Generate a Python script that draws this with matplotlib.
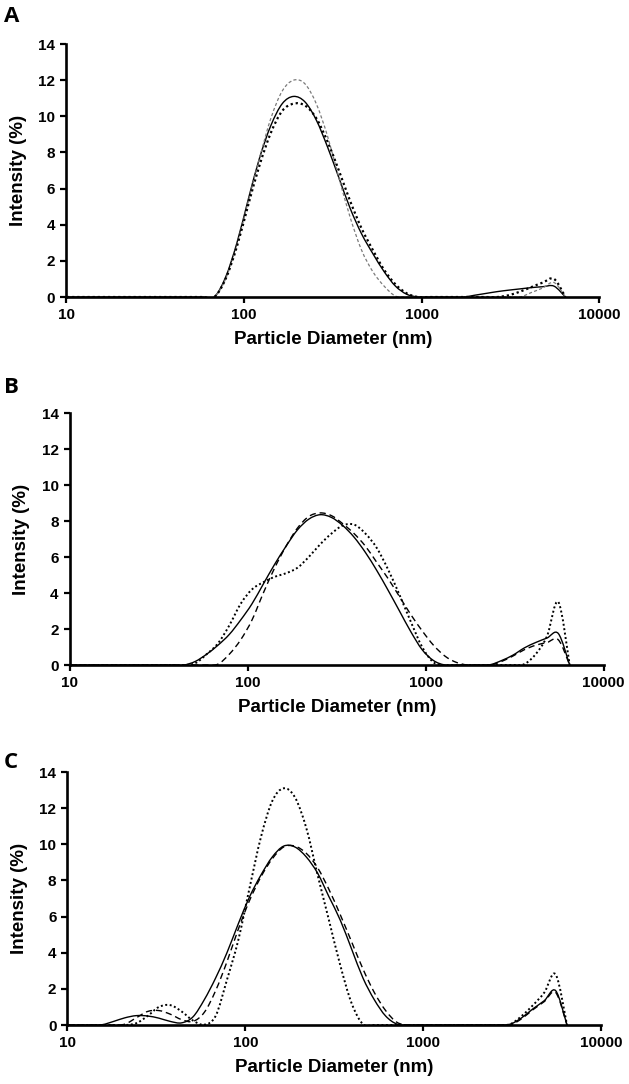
import matplotlib
matplotlib.use('Agg')
import matplotlib.pyplot as plt
import numpy as np
from matplotlib.path import Path
from matplotlib.patches import PathPatch

plt.rcParams['font.family'] = ['Liberation Sans', 'DejaVu Sans']

# size classes (nm)
sizes = [10.10, 11.70, 13.54, 15.69, 18.17, 21.04, 24.36, 28.21, 32.67, 37.84,
         43.82, 50.75, 58.77, 68.06, 78.82, 91.28, 105.7, 122.4, 141.8, 164.2,
         190.1, 220.2, 255.0, 295.3, 342.0, 396.1, 458.7, 531.2, 615.1, 712.4,
         825.0, 955.4, 1106, 1281, 1484, 1718, 1990, 2305, 2669, 3091,
         3580, 4145, 4801, 5560, 6439]

# ---- panel A
a_solid = [0, 0, 0, 0, 0, 0, 0, 0, 0, 0,
           0, 0, 0, 0, 1.1, 3.0, 5.4, 7.7, 9.5, 10.7,
           11.1, 10.8, 9.8, 8.3, 6.6, 4.9, 3.5, 2.4, 1.4, 0.6,
           0.15, 0, 0, 0, 0, 0, 0.1, 0.2, 0.3, 0.38,
           0.45, 0.52, 0.57, 0.6, 0]
a_dotted = [0, 0, 0, 0, 0, 0, 0, 0, 0, 0,
            0, 0, 0, 0, 1.0, 2.8, 5.1, 7.3, 9.1, 10.3,
            10.7, 10.6, 9.9, 8.6, 7.0, 5.3, 3.8, 2.6, 1.5, 0.7,
            0.2, 0, 0, 0, 0, 0, 0, 0, 0, 0.1,
            0.3, 0.55, 0.8, 1.0, 0]
a_dashed = [0, 0, 0, 0, 0, 0, 0, 0, 0, 0,
            0, 0, 0, 0, 1.0, 2.9, 5.3, 7.7, 9.9, 11.4,
            12.0, 11.8, 10.7, 8.9, 6.6, 4.4, 2.6, 1.4, 0.6, 0.05,
            0, 0, 0, 0, 0, 0, 0, 0, 0, 0,
            0, 0.25, 0.5, 0.8, 0]

# ---- panel B
b_solid = [0, 0, 0, 0, 0, 0, 0, 0, 0, 0,
           0, 0.2, 0.6, 1.1, 1.7, 2.5, 3.4, 4.5, 5.6, 6.6,
           7.5, 8.1, 8.35, 8.2, 7.75, 7.1, 6.25, 5.25, 4.15, 3.0,
           1.85, 0.85, 0.25, 0, 0, 0, 0, 0.02, 0.25, 0.55,
           0.95, 1.25, 1.5, 1.75, 0]
b_dotted = [0, 0, 0, 0, 0, 0, 0, 0, 0, 0,
            0, 0.1, 0.6, 1.2, 2.2, 3.4, 4.2, 4.6, 4.9, 5.1,
            5.4, 6.0, 6.7, 7.3, 7.75, 7.8, 7.3, 6.5, 5.3, 3.9,
            2.4, 1.0, 0.15, 0, 0, 0, 0, 0, 0, 0,
            0.05, 0.6, 1.6, 3.5, 0]
b_dashed = [0, 0, 0, 0, 0, 0, 0, 0, 0, 0,
            0, 0, 0, 0.05, 0.6, 1.4, 2.5, 4.0, 5.4, 6.6,
            7.6, 8.25, 8.45, 8.3, 7.85, 7.3, 6.6, 5.7, 4.8, 3.8,
            2.8, 1.9, 1.1, 0.5, 0.15, 0, 0, 0, 0.2, 0.5,
            0.85, 1.1, 1.25, 1.4, 0]

# ---- panel C
c_solid = [0, 0, 0, 0.02, 0.2, 0.4, 0.52, 0.5, 0.38, 0.2,
           0.12, 0.45, 1.4, 2.6, 4.0, 5.6, 7.1, 8.3, 9.3, 9.9,
           9.85, 9.3, 8.4, 7.1, 5.8, 4.2, 2.6, 1.4, 0.5, 0.05,
           0, 0, 0, 0, 0, 0, 0, 0, 0, 0.05,
           0.4, 0.9, 1.35, 1.9, 0]
c_dotted = [0, 0, 0, 0, 0, 0, 0.1, 0.5, 1.0, 1.1,
            0.75, 0.25, 0.02, 0.5, 2.5, 4.7, 7.6, 10.4, 12.4, 13.1,
            12.6, 10.9, 8.3, 5.8, 3.3, 1.2, 0.05, 0, 0, 0,
            0, 0, 0, 0, 0, 0, 0, 0, 0, 0.05,
            0.5, 1.1, 1.8, 2.8, 0]
c_dashed = [0, 0, 0, 0, 0, 0.05, 0.4, 0.75, 0.8, 0.6,
            0.3, 0.2, 0.7, 1.9, 3.5, 5.3, 6.9, 8.2, 9.2, 9.85,
            9.9, 9.5, 8.7, 7.5, 6.1, 4.6, 3.1, 1.8, 0.8, 0.15,
            0, 0, 0, 0, 0, 0, 0, 0, 0, 0,
            0.35, 0.85, 1.3, 1.8, 0]

y_ticks = [0, 2, 4, 6, 8, 10, 12, 14]
x_ticks = [10, 100, 1000, 10000]
x_ticklabels = ['10', '100', '1000', '10000']


#------------- smoothed line through the points (like a spreadsheet "smooth line") ---------
def smoothLine(ax, xs, ys, **kw):
    lx = np.log10(xs)
    y = np.asarray(ys, dtype=float)
    n = len(lx)
    verts = [(lx[0], y[0])]
    codes = [Path.MOVETO]
    for i in range(n - 1):
        p0 = max(i - 1, 0)
        p3 = min(i + 2, n - 1)
        c1 = (lx[i] + (lx[i + 1] - lx[p0]) / 6.0, y[i] + (y[i + 1] - y[p0]) / 6.0)
        c2 = (lx[i + 1] - (lx[p3] - lx[i]) / 6.0, y[i + 1] - (y[p3] - y[i]) / 6.0)
        verts += [c1, c2, (lx[i + 1], y[i + 1])]
        codes += [Path.CURVE4] * 3
    verts = [(10 ** vx, vy) for vx, vy in verts]
    ax.add_patch(PathPatch(Path(verts, codes), fill=False, **kw))


def drawPanel(ax, solid, dotted, dashed, dashColor='black', dashStyle=(0, (4.5, 2.8)), dashWidth=1.0, dotWidth=1.4):
    smoothLine(ax, sizes, solid, edgecolor='black', lw=1.0, linestyle='-')
    smoothLine(ax, sizes, dashed, edgecolor=dashColor, lw=dashWidth, linestyle=dashStyle)
    smoothLine(ax, sizes, dotted, edgecolor='black', lw=dotWidth, linestyle=(0, (1, 1.3)))
    ax.set_xscale('log')
    ax.set_xlim(10, 10000)
    ax.set_ylim(0, 14)
    ax.set_xticks(x_ticks)
    ax.set_xticklabels(x_ticklabels)
    ax.minorticks_off()
    ax.set_yticks(y_ticks)
    for side in ['top', 'right']:
        ax.spines[side].set_visible(False)
    for side in ['left', 'bottom']:
        ax.spines[side].set_linewidth(1.9)
    ax.tick_params(axis='both', direction='out', length=4, width=1.6, pad=4, labelsize=11)
    for lab in ax.get_xticklabels() + ax.get_yticklabels():
        lab.set_fontweight('bold')
    ax.set_xlabel('Particle Diameter (nm)', fontsize=13.5, fontweight='bold')
    ax.set_ylabel('Intensity (%)', fontsize=13.5, fontweight='bold')
    ax.xaxis.set_label_coords(0.5, -0.135)
    ax.yaxis.set_label_coords(-0.074, 0.5)


fig = plt.figure(figsize=(6.29, 10.84), dpi=100)
axA = fig.add_axes([0.1054, 0.7260, 0.8475, 0.2334])
axB = fig.add_axes([0.1108, 0.3865, 0.8490, 0.2325])
axC = fig.add_axes([0.1073, 0.0544, 0.8482, 0.2334])

drawPanel(axA, a_solid, a_dotted, a_dashed, dashColor='#7a7a7a', dashStyle=(0, (2.5, 1.8)), dashWidth=0.9, dotWidth=1.6)
drawPanel(axB, b_solid, b_dotted, b_dashed)
drawPanel(axC, c_solid, c_dotted, c_dashed)

letterFont = ['Open Sans', 'DejaVu Sans']
fig.text(0.006, 0.9945, 'A', fontsize=16, fontweight='bold', family=letterFont, ha='left', va='top')
fig.text(0.006, 0.6525, 'B', fontsize=16, fontweight='bold', family=letterFont, ha='left', va='top')
fig.text(0.006, 0.3065, 'C', fontsize=16, fontweight='bold', family=letterFont, ha='left', va='top')

fig.savefig('out.png', dpi=100)
